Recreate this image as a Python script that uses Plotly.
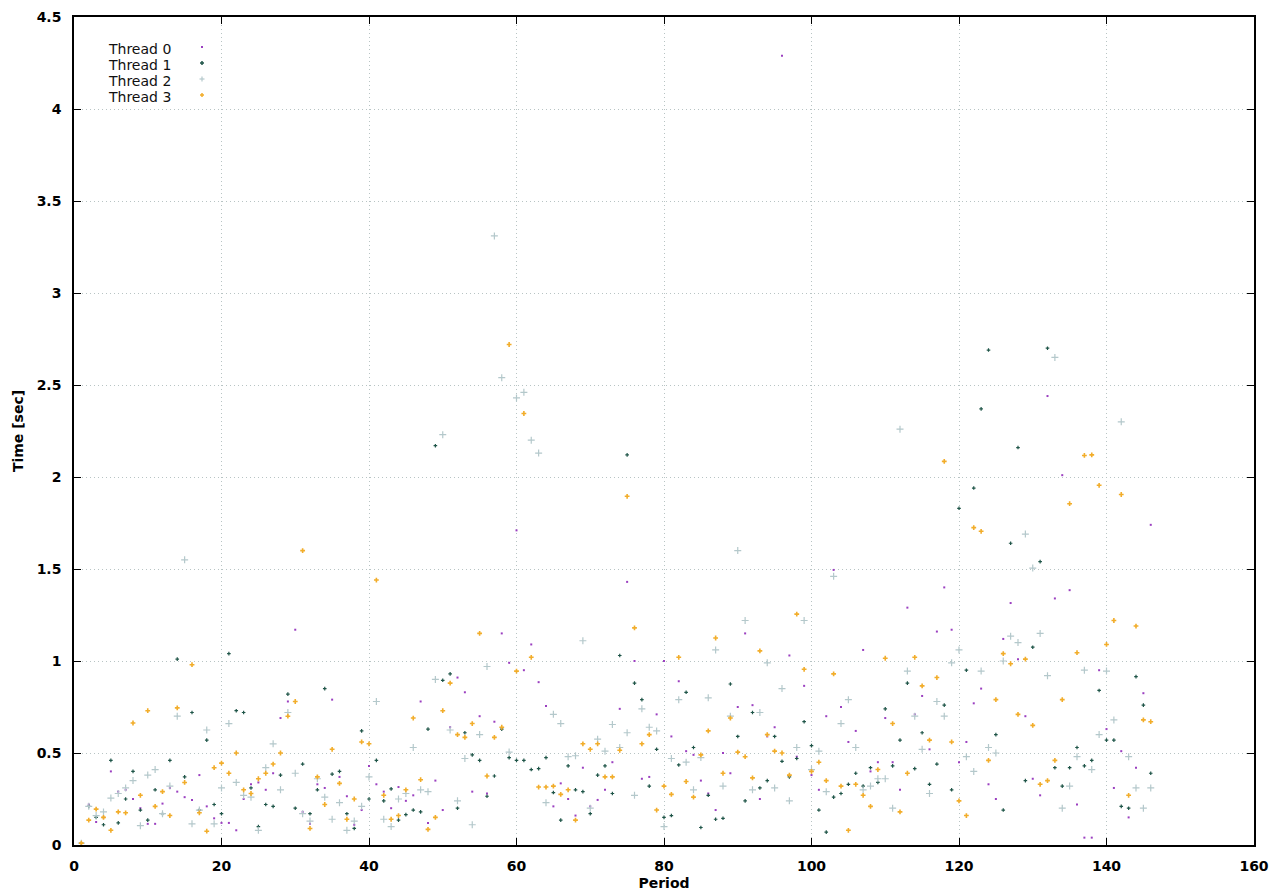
import plotly.graph_objects as go

periods = list(range(1, 147))

thread0 = [0.01,0.22,0.125,0.15,0.40,0.29,0.30,0.25,0.20,0.115,
           0.115,0.225,0.31,0.29,0.26,0.245,0.38,0.21,0.145,0.12,
           0.12,0.08,0.25,0.33,0.34,0.30,0.39,0.69,0.78,1.17,
           0.18,0.115,0.33,0.31,0.79,0.37,0.265,0.11,0.19,0.43,
           0.33,0.29,0.20,0.315,0.24,0.27,0.78,0.12,0.35,0.19,
           0.64,0.91,0.83,0.29,0.70,0.28,0.67,1.15,0.99,1.71,
           0.95,1.09,0.885,0.755,0.21,0.335,0.25,0.16,0.42,0.21,
           0.245,0.30,0.45,0.74,1.43,1.0,0.36,0.37,0.71,1.0,
           0.59,0.89,0.51,0.49,0.35,0.28,0.19,0.50,0.39,0.75,
           1.15,0.76,0.25,0.59,0.64,4.29,1.03,0.48,0.865,0.38,
           0.30,0.70,1.495,0.75,0.56,0.62,1.06,0.40,0.45,0.69,
           0.45,0.30,1.29,0.71,0.81,0.52,1.16,1.40,1.17,0.45,
           0.56,0.77,0.85,0.33,0.25,1.12,1.315,1.01,0.70,0.36,
           0.27,2.44,1.34,2.01,1.385,0.22,0.04,0.04,0.95,0.63,
           0.31,0.51,0.15,0.42,0.825,1.74]

thread1 = [0.01,0.21,0.15,0.11,0.46,0.12,0.25,0.40,0.19,0.135,
           0.30,0.17,0.46,1.01,0.37,0.72,0.19,0.57,0.22,0.17,
           1.04,0.73,0.72,0.31,0.10,0.22,0.21,0.38,0.82,0.20,
           0.44,0.17,0.30,0.85,0.385,0.40,0.17,0.09,0.62,0.25,
           0.46,0.24,0.305,0.135,0.165,0.19,0.18,0.63,2.17,0.895,
           0.93,0.20,0.61,0.49,0.46,0.265,0.375,0.63,0.475,0.46,
           0.46,0.41,0.415,0.475,0.285,0.135,0.43,0.30,0.29,0.17,
           0.38,0.43,0.28,1.03,2.12,0.88,0.79,0.32,0.52,0.15,
           0.16,0.435,0.83,0.53,0.095,0.27,0.14,0.145,0.875,0.59,
           0.24,0.72,0.31,0.35,0.59,0.455,0.37,0.47,0.67,0.54,
           0.19,0.07,0.26,0.28,0.33,0.39,0.32,0.42,0.34,0.74,
           0.43,0.57,0.88,0.415,0.61,0.33,0.44,0.76,0.30,1.83,
           0.95,1.94,2.37,2.69,0.60,0.19,1.64,2.16,0.35,1.075,
           1.54,2.70,0.42,0.32,0.42,0.53,0.43,0.46,0.84,0.57,
           0.57,0.21,0.20,0.915,0.76,0.39]

thread2 = [0.01,0.21,0.16,0.18,0.255,0.28,0.31,0.35,0.105,0.38,
           0.41,0.17,0.32,0.70,1.55,0.115,0.19,0.625,0.115,0.31,
           0.66,0.34,0.27,0.26,0.08,0.42,0.55,0.30,0.72,0.39,
           0.17,0.13,0.36,0.26,0.14,0.23,0.08,0.13,0.21,0.37,
           0.78,0.14,0.10,0.25,0.28,0.53,0.30,0.29,0.90,2.23,
           0.625,0.24,0.47,0.11,0.60,0.97,3.31,2.54,0.505,2.43,
           2.46,2.20,2.13,0.23,0.71,0.66,0.48,0.485,1.11,0.20,
           0.575,0.51,0.655,0.53,0.61,0.27,0.74,0.64,0.62,0.10,
           0.47,0.79,0.45,0.30,0.475,0.80,1.06,0.32,0.70,1.60,
           1.22,0.30,0.72,0.99,0.31,0.85,0.24,0.53,1.22,0.41,
           0.51,0.29,1.46,0.66,0.79,0.53,0.30,0.32,0.36,0.36,
           0.20,2.26,0.945,0.70,0.52,0.28,0.78,0.70,0.99,1.06,
           0.48,0.40,0.945,0.53,0.50,1.0,1.135,1.10,1.69,1.505,
           1.15,0.92,2.65,0.20,0.32,0.48,0.95,0.41,0.60,0.945,
           0.68,2.30,0.48,0.31,0.20,0.31]

thread3 = [0.01,0.135,0.195,0.15,0.08,0.18,0.175,0.663,0.27,0.73,
           0.21,0.29,0.16,0.745,0.34,0.98,0.175,0.075,0.42,0.445,
           0.39,0.50,0.30,0.28,0.36,0.39,0.44,0.50,0.70,0.78,
           1.60,0.09,0.37,0.22,0.52,0.335,0.14,0.25,0.56,0.55,
           1.44,0.27,0.14,0.16,0.30,0.69,0.355,0.085,0.15,0.73,
           0.88,0.60,0.585,0.66,1.15,0.375,0.585,0.64,2.72,0.945,
           2.345,1.02,0.315,0.315,0.32,0.275,0.30,0.135,0.55,0.52,
           0.55,0.37,0.37,0.515,1.895,1.18,0.55,0.60,0.19,0.32,
           0.275,1.02,0.345,0.26,0.49,0.62,1.125,0.39,0.69,0.505,
           0.48,0.365,1.055,0.60,0.51,0.50,0.38,1.255,0.955,0.40,
           0.45,0.35,0.93,0.32,0.08,0.33,0.27,0.21,0.41,1.015,
           0.66,0.18,0.39,1.02,0.865,0.57,0.91,2.085,0.56,0.24,
           0.16,1.725,1.705,0.46,0.79,1.04,0.985,0.71,1.01,0.65,
           0.33,0.35,0.46,0.79,1.855,1.045,2.117,2.12,1.955,1.09,
           1.22,1.905,0.27,1.19,0.68,0.67]

names = ["Thread 0", "Thread 1", "Thread 2", "Thread 3"]
series = [thread0, thread1, thread2, thread3]
colors = ["#9b3fc0", "#1f5548", "#b4c8cb", "#f2ad2a"]
symbols = ["square", "cross", "cross-thin", "cross"]
sizes = [2, 3, 5, 4]

fig = go.Figure()
for name, ys, c, s, sz in zip(names, series, colors, symbols, sizes):
    if s == "cross-thin":
        mk = dict(color=c, symbol=s, size=sz, line=dict(width=1.2, color=c))
    else:
        mk = dict(color=c, symbol=s, size=sz, line=dict(width=0))
    fig.add_trace(go.Scatter(x=periods, y=ys, mode="markers", name=name,
                             showlegend=False, marker=mk))

L, R, T, B = 74, 26, 17, 51
W, H = 1280, 896
pw, ph = W - L - R, H - T - B

def px_to_paper(px, py):
    return (px - L) / pw, (H - B - py) / ph

annotations = []
shapes = []
leg_y = [49, 65, 81, 97]
for i, (name, c, sz) in enumerate(zip(names, colors, sizes)):
    tx, ty = px_to_paper(173, leg_y[i])
    annotations.append(dict(x=tx, y=ty, xref="paper", yref="paper", text=name,
                            showarrow=False, xanchor="right", yanchor="middle",
                            font=dict(family="DejaVu Sans", size=14, color="#111111")))
    mx, my = px_to_paper(202, leg_y[i] - 2)
    if i == 0:
        shapes.append(dict(type="rect", xref="paper", yref="paper", xsizemode="pixel",
                           ysizemode="pixel", xanchor=mx, yanchor=my, x0=-1, x1=1, y0=-1, y1=1,
                           fillcolor=c, line=dict(width=0)))
    else:
        h = 2 if i != 2 else 2.5
        w = 1.5 if i != 2 else 1.2
        shapes.append(dict(type="line", xref="paper", yref="paper", xsizemode="pixel",
                           ysizemode="pixel", xanchor=mx, yanchor=my, x0=-h, x1=h, y0=0, y1=0,
                           line=dict(color=c, width=w)))
        shapes.append(dict(type="line", xref="paper", yref="paper", xsizemode="pixel",
                           ysizemode="pixel", xanchor=mx, yanchor=my, x0=0, x1=0, y0=-h, y1=h,
                           line=dict(color=c, width=w)))

yticks = [0, 0.5, 1, 1.5, 2, 2.5, 3, 3.5, 4, 4.5]
ytick_text = ["0", "0.5", "1", "1.5", "2", "2.5", "3", "3.5", "4", "4.5"]
xticks = [0, 20, 40, 60, 80, 100, 120, 140, 160]

tickfont = dict(family="DejaVu Sans", size=14, color="#000000", weight="bold")
titlefont = dict(family="DejaVu Sans", size=14, color="#000000", weight="bold")
grid = dict(showgrid=True, gridcolor="#b8c4c4", griddash="1px,3px", gridwidth=1)

fig.update_layout(
    width=W, height=H,
    margin=dict(l=L, r=R, t=T, b=B, autoexpand=False),
    paper_bgcolor="white", plot_bgcolor="white",
    annotations=annotations, shapes=shapes,
    showlegend=False,
    xaxis=dict(range=[0, 160], tickvals=xticks, ticks="inside", ticklen=7,
               tickcolor="black", showline=True, linecolor="black", linewidth=1.5,
               mirror="ticks", zeroline=False, tickfont=tickfont, ticklabelstandoff=7,
               automargin=False,
               title=dict(text="Period", font=titlefont, standoff=6), **grid),
    yaxis=dict(range=[0, 4.5], tickvals=yticks, ticktext=ytick_text, ticks="inside",
               ticklen=7, tickcolor="black", showline=True, linecolor="black", linewidth=1.5,
               mirror="ticks", zeroline=False, tickfont=tickfont, ticklabelstandoff=8,
               automargin=False,
               title=dict(text="Time [sec]", font=titlefont, standoff=10), **grid),
)

fig.write_html("out.html", config={"displayModeBar": False},
               post_script="document.body.style.margin='0';")
